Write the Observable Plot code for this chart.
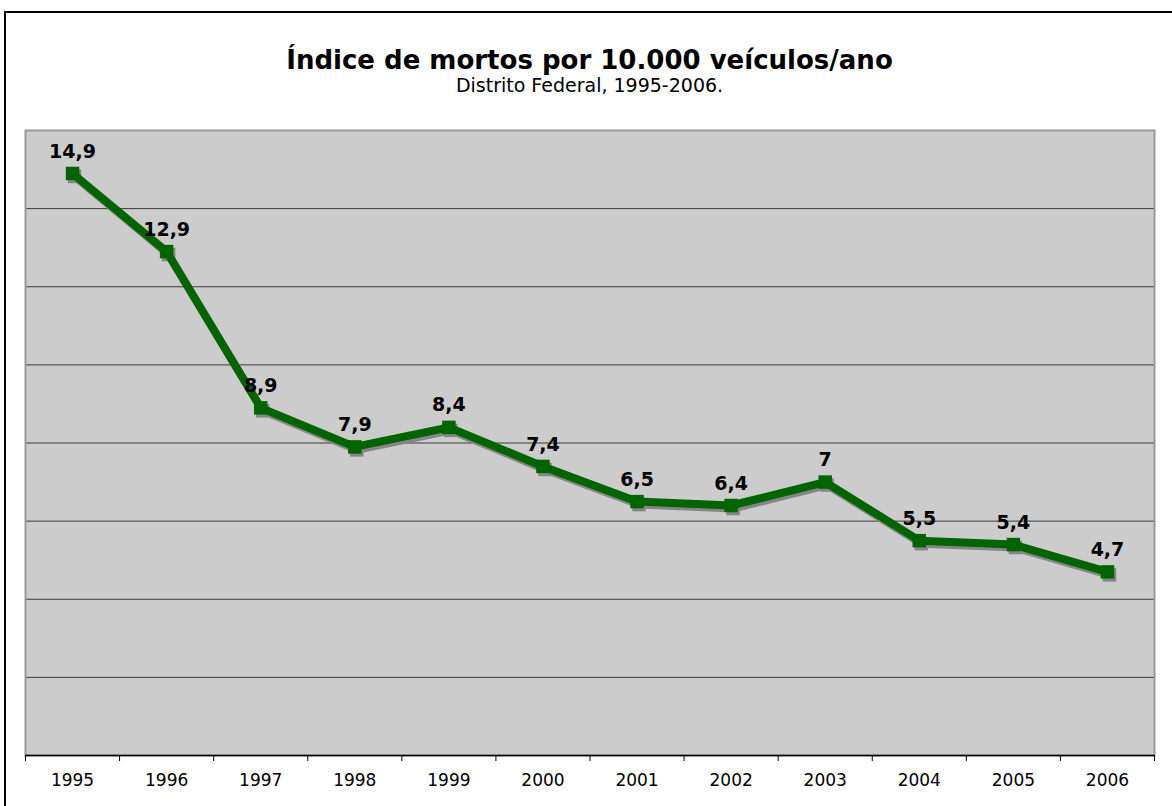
<!DOCTYPE html>
<html><head><meta charset="utf-8">
<script src="https://cdn.jsdelivr.net/npm/d3@7"></script>
<script src="https://cdn.jsdelivr.net/npm/@observablehq/plot@0.6"></script>
<style>
body{margin:0;background:#fff;overflow:hidden;font-family:"DejaVu Sans",sans-serif;}
#wrap{position:relative;width:1172px;height:806px;overflow:hidden;}
#chart{position:absolute;left:0;top:0;}
#border{position:absolute;left:4px;top:11px;right:-4px;bottom:-4px;border-left:2px solid #000;border-top:2px solid #000;pointer-events:none;z-index:2;}
#title{position:absolute;left:25px;width:1129px;top:45px;text-align:center;font-weight:bold;font-size:26px;line-height:30px;color:#000;z-index:3;}
#subtitle{position:absolute;left:25px;width:1129px;top:74px;text-align:center;font-size:19px;line-height:22px;color:#000;z-index:3;}
</style>
</head><body>
<div id="wrap">
<div id="chart"></div>
<div id="border"></div>
<div id="title">Índice de mortos por 10.000 veículos/ano</div>
<div id="subtitle">Distrito Federal, 1995-2006.</div>
</div>
<script>
const years = [1995, 1996, 1997, 1998, 1999, 2000, 2001, 2002, 2003, 2004, 2005, 2006];
const values = [14.9, 12.9, 8.9, 7.9, 8.4, 7.4, 6.5, 6.4, 7.0, 5.5, 5.4, 4.7];
const valueLabels = ["14,9", "12,9", "8,9", "7,9", "8,4", "7,4", "6,5", "6,4", "7", "5,5", "5,4", "4,7"];
const gridValues = [2, 4, 6, 8, 10, 12, 14];
const yDomain = [0, 16];

const data = years.map((year, i) => ({year, value: values[i], label: valueLabels[i]}));
const boundaries = years.map(y => y - 0.5).concat([years[years.length - 1] + 0.5]);

const green = "#006400";
const shadow = "#858585";

const chart = Plot.plot({
  width: 1172,
  height: 806,
  marginTop: 130,
  marginBottom: 51,
  marginLeft: 25,
  marginRight: 18,
  style: {fontFamily: "DejaVu Sans, sans-serif", background: "transparent", overflow: "visible"},
  x: {domain: [boundaries[0], boundaries[boundaries.length - 1]], axis: null},
  y: {domain: yDomain, axis: null},
  marks: [
    Plot.frame({fill: "#cccccc"}),
    Plot.ruleY(gridValues, {stroke: "#3a3a3a", strokeWidth: 1}),
    Plot.frame({stroke: "#999999", strokeWidth: 2}),
    Plot.ruleY([0], {stroke: "#000", strokeWidth: 1.5}),
    Plot.axisX({ticks: boundaries, tickFormat: () => "", tickSize: 6, stroke: "#000", strokeWidth: 1, strokeOpacity: 1, label: null}),
    Plot.axisX({ticks: years, tickFormat: d => String(d), tickSize: 0, tickPadding: 18, fontSize: 17, fill: "#000", label: null}),
    Plot.line(data, {x: "year", y: "value", stroke: shadow, strokeWidth: 8, dx: 2, dy: 3}),
    Plot.dot(data, {x: "year", y: "value", symbol: "square", r: 7.6, fill: shadow, stroke: "none", dx: 2, dy: 3}),
    Plot.line(data, {x: "year", y: "value", stroke: green, strokeWidth: 8}),
    Plot.dot(data, {x: "year", y: "value", symbol: "square", r: 7.6, fill: green, stroke: "none"}),
    Plot.text(data, {x: "year", y: "value", text: "label", dy: -22, fontSize: 19, fontWeight: "bold", fill: "#000"})
  ]
});
document.getElementById("chart").appendChild(chart);
</script>
</body></html>
